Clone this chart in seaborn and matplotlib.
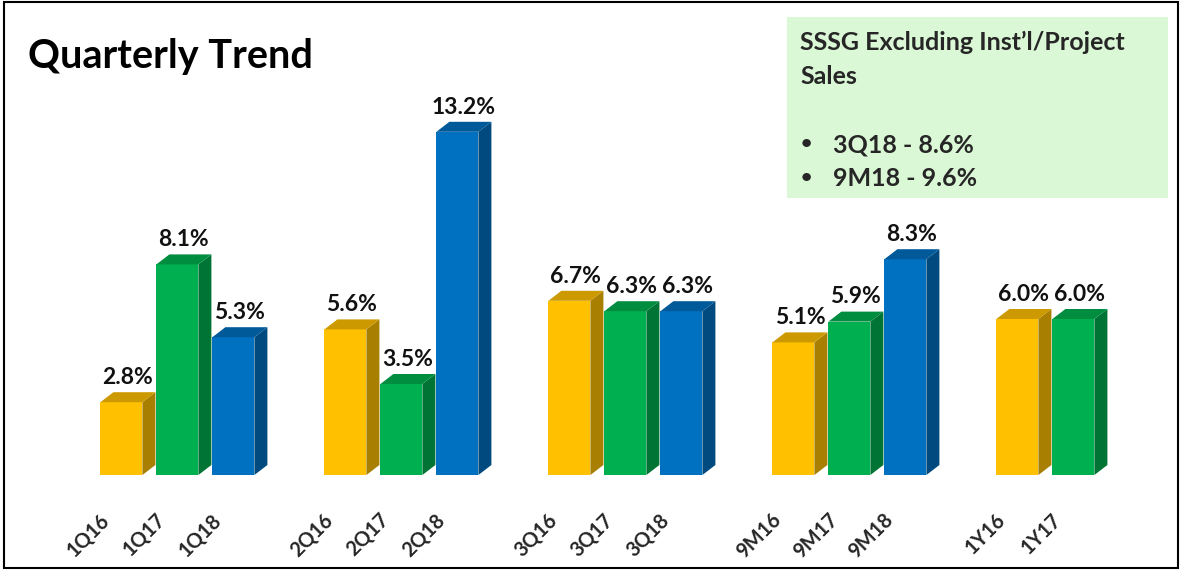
import numpy as np
import pandas as pd
import seaborn as sns
import matplotlib.pyplot as plt
from matplotlib.patches import Polygon, Rectangle
from matplotlib.transforms import ScaledTranslation
from matplotlib.colors import to_rgb

# data
periods = ["1Q", "2Q", "3Q", "9M", "1Y"]
fy16 = [2.8, 5.6, 6.7, 5.1, 6.0]
fy17 = [8.1, 3.5, 6.3, 5.9, 6.0]
fy18 = [5.3, 13.2, 6.3, 8.3, None]
years = ["16", "17", "18"]
colors = {"16": "#FFC000", "17": "#00B050", "18": "#0070C0"}

rows = []
for yr, vals in zip(years, [fy16, fy17, fy18]):
    for p, v in zip(periods, vals):
        if v is not None:
            rows.append({"label": p + yr, "year": yr, "value": v})
df = pd.DataFrame(rows)

# category order with blank spacer slots between the groups
order = []
for i, p in enumerate(periods):
    order += [p + yr for yr in years if (p + yr) in set(df["label"])]
    if i < len(periods) - 1:
        order.append(" " * (i + 1))

sns.set_style("white")
plt.rcParams["font.family"] = ["Lato", "DejaVu Sans"]

W, H = 1183, 573
fig = plt.figure(figsize=(W / 100, H / 100), dpi=100)
ax = fig.add_axes([71 / W, (H - 475) / H, 18.8 * 56 / W, 416 / H])

sns.barplot(data=df, x="label", y="value", hue="year", order=order,
            palette=colors, dodge=False, width=0.75, saturation=1,
            legend=False, ax=ax)
ax.set_xlim(-0.9, 17.9)
ax.set_ylim(0, 16)

# 3d look: side and top faces
dx, dy = 13 / 56, 10 / 26
for bar in ax.patches:
    h = bar.get_height()
    if not np.isfinite(h) or h <= 0:
        continue
    x0 = bar.get_x()
    w = bar.get_width()
    fc = np.array(to_rgb(bar.get_facecolor()))
    bar.set_edgecolor("none")
    side = [(x0 + w, 0), (x0 + w + dx, dy), (x0 + w + dx, h + dy), (x0 + w, h)]
    top = [(x0, h), (x0 + dx, h + dy), (x0 + w + dx, h + dy), (x0 + w, h)]
    ax.add_patch(Polygon(side, closed=True, facecolor=fc * 0.66, edgecolor="none"))
    ax.add_patch(Polygon(top, closed=True, facecolor=fc * 0.8, edgecolor="none"))
    ax.annotate(f"{h:.1f}%", (x0 + (w + dx) / 2, h + dy), xytext=(0, 3),
                textcoords="offset points", ha="center", va="bottom",
                fontsize=16.5, fontweight="bold", color="#111111")

ax.set_xlabel("")
ax.set_ylabel("")
ax.set_yticks([])
ax.set_xticks(range(len(order)))
ax.set_xticklabels([o.strip() for o in order], rotation=45, ha="right",
                   va="center", rotation_mode="anchor",
                   fontsize=14.5, fontweight="bold")
ax.tick_params(axis="x", length=0, pad=0)
shift = ScaledTranslation(-0.15, -0.42, fig.dpi_scale_trans)
for lab in ax.get_xticklabels():
    lab.set_transform(lab.get_transform() + shift)
sns.despine(ax=ax, left=True, bottom=True)

def px(x, y):
    return x / W, 1 - y / H

# title
fig.text(*px(28, 68), "Quarterly Trend", fontsize=28.5, fontweight="bold",
         va="baseline", color="black")

# green note box
fig.patches.append(Rectangle(px(787, 198), 381 / W, 181 / H,
                             transform=fig.transFigure,
                             facecolor="#DBF8D6", edgecolor="none"))
fig.text(*px(800, 50), "SSSG Excluding Inst\u2019l/Project", fontsize=18,
         fontweight="bold", va="baseline")
fig.text(*px(800, 84), "Sales", fontsize=18, fontweight="bold", va="baseline")
for yy, txt in [(152, "3Q18 - 8.6%"), (186, "9M18 - 9.6%")]:
    fig.text(*px(801, yy - 3), "\u2022", fontsize=14, fontweight="bold", va="baseline")
    fig.text(*px(833, yy), txt, fontsize=18, fontweight="bold", va="baseline")

# outer frame
fig.patches.append(Rectangle(px(4, 568), 1174 / W, 566 / H,
                             transform=fig.transFigure, facecolor="none",
                             edgecolor="black", linewidth=1.5))

fig.savefig("out.png", dpi=100)
